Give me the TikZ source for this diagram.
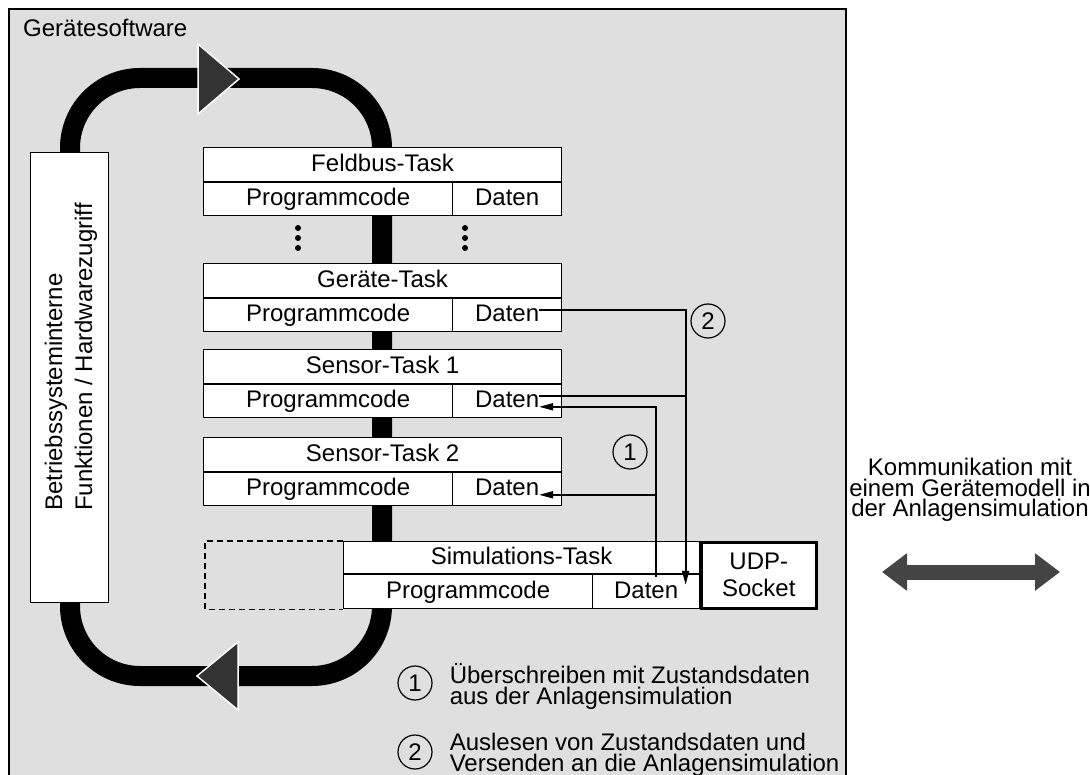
\documentclass[tikz,border=0pt]{standalone}
\usepackage{fontspec}
\setmainfont{Liberation Sans}
\usetikzlibrary{positioning, arrows.meta}

\definecolor{bggray}{HTML}{DFDFDF}
\definecolor{tridark}{HTML}{333333}
\definecolor{commgray}{HTML}{444444}

\tikzset{
	box/.style={draw, fill=white, line width=1.2pt, inner sep=0pt},
	cell/.style={box, text height=17pt, text depth=4pt},
	taskhead/.style={cell, anchor=north west, minimum width=358pt, minimum height=34pt},
	codecell/.style={cell, anchor=north west, minimum width=249pt, minimum height=33pt},
	datacell/.style={cell, anchor=north east, minimum width=109pt, minimum height=33pt},
	flow/.style={line width=1.8pt},
	datatip/.tip={Triangle[length=14pt,width=7pt]},
	numcirc/.style={circle, draw, line width=1.2pt, minimum size=34pt, inner sep=0pt},
	legend/.style={align=left, inner sep=0pt, yshift=-3pt}
}

\begin{document}
\begin{tikzpicture}[x=1pt, y=-1pt, font=\fontsize{24}{21}\selectfont]
	\useasboundingbox (0,0) rectangle (1090,775);
	
	%frame of the device software
	\draw[fill=bggray, line width=1.5pt] (9,9) rectangle (846,790);
	\node[anchor=base west, inner sep=0pt] (sw) at (23,37) {Gerätesoftware};
	
	%task loop
	\draw[line width=20pt, rounded corners=70pt] (70,78) rectangle (382,676);
	\filldraw[fill=tridark, draw=white, line width=1.5pt] (198,44) -- (198,114) -- (239,79) -- cycle;
	\filldraw[fill=tridark, draw=white, line width=1.5pt] (238,642) -- (238,710) -- (197,676) -- cycle;
	
	%operating system
	\node[box, anchor=north west, minimum width=78pt, minimum height=450pt] (os) at (30,152) {};
	\node[rotate=90, anchor=base west, inner sep=0pt] (osA) at (62,511) {Betriebssysteminterne};
	\node[rotate=90, anchor=base west, inner sep=0pt] (osB) at (92,511) {Funktionen / Hardwarezugriff};
	
	%tasks
	\node[taskhead] (fb) at (203,147) {Feldbus-Task};
	\node[codecell] (fbC) at (fb.south west) {Programmcode};
	\node[datacell] (fbD) at (fb.south east) {Daten};
	
	\node[taskhead] (gt) at (203,263) {Geräte-Task};
	\node[codecell] (gtC) at (gt.south west) {Programmcode};
	\node[datacell] (gtD) at (gt.south east) {Daten};
	
	\node[taskhead] (s1) at (203,349) {Sensor-Task 1};
	\node[codecell] (s1C) at (s1.south west) {Programmcode};
	\node[datacell] (s1D) at (s1.south east) {Daten};
	
	\node[taskhead] (s2) at (203,437) {Sensor-Task 2};
	\node[codecell] (s2C) at (s2.south west) {Programmcode};
	\node[datacell] (s2D) at (s2.south east) {Daten};
	
	%dots between the tasks
	\foreach \y in {228,238,248} {
		\fill (298,\y) circle (3pt);
		\fill (465,\y) circle (3pt);
	}
	
	%simulation task
	\node[taskhead, minimum width=356pt, minimum height=32pt] (sim) at (343,541) {Simulations-Task};
	\node[codecell, minimum height=34pt] (simC) at (sim.south west) {Programmcode};
	\node[datacell, minimum width=107pt, minimum height=34pt] (simD) at (sim.south east) {Daten};
	\node[box, line width=2.6pt, anchor=north west, minimum width=115pt, minimum height=66pt,
		align=center, font=\fontsize{24}{27}\selectfont] (udp) at (700,541) {UDP-\\Socket};
	\draw[dashed, dash pattern=on 6pt off 4pt, line width=1.2pt] (sim.north west) -- ++(-138,0) |- (simC.south west);
	
	%data paths
	\coordinate (gtOut) at ([xshift=32pt,yshift=5.5pt]gtD.center);
	\coordinate (s1Out) at ([xshift=32pt,yshift=5.5pt]s1D.center);
	\coordinate (s1In)  at ([xshift=32pt,yshift=-5.5pt]s1D.center);
	\coordinate (s2In)  at ([xshift=32pt,yshift=-5.5pt]s2D.center);
	\coordinate (simIn) at ([xshift=39.5pt,yshift=7pt]simD.center);
	\coordinate (simOut) at ([xshift=10pt,yshift=15pt]simD.center);
	
	\draw[flow, -datatip] (gtOut) -| (simIn);
	\draw[flow] (s1Out) -- (s1Out -| simIn);
	\draw[flow, -datatip] (simOut) |- (s1In);
	\draw[flow, -datatip] (simOut |- s2In) -- (s2In);
	
	\node[numcirc] (n2) at (708,321) {2};
	\node[numcirc] (n1) at (630,452) {1};
	
	%legend
	\node[numcirc] (l1) at (415,683) {1};
	\node[legend, right=17pt of l1] (l1txt) {Überschreiben mit Zustandsdaten\\aus der Anlagensimulation};
	\node[numcirc] (l2) at (415,752) {2};
	\node[legend, right=17pt of l2] (l2txt) {Auslesen von Zustandsdaten und\\Versenden an die Anlagensimulation};
	
	%communication with the plant simulation
	\node[align=center, inner sep=0pt, font=\fontsize{24}{20.5}\selectfont] (komm) at (970,490)
		{Kommunikation mit\\einem Gerätemodell in\\der Anlagensimulation};
	\coordinate (commL) at (882,572);
	\coordinate (commR) at (1060,572);
	\draw[commgray, line width=15pt, {Triangle[length=25pt,width=36pt]}-{Triangle[length=25pt,width=36pt]}] (commL) -- (commR);
\end{tikzpicture}
\end{document}
